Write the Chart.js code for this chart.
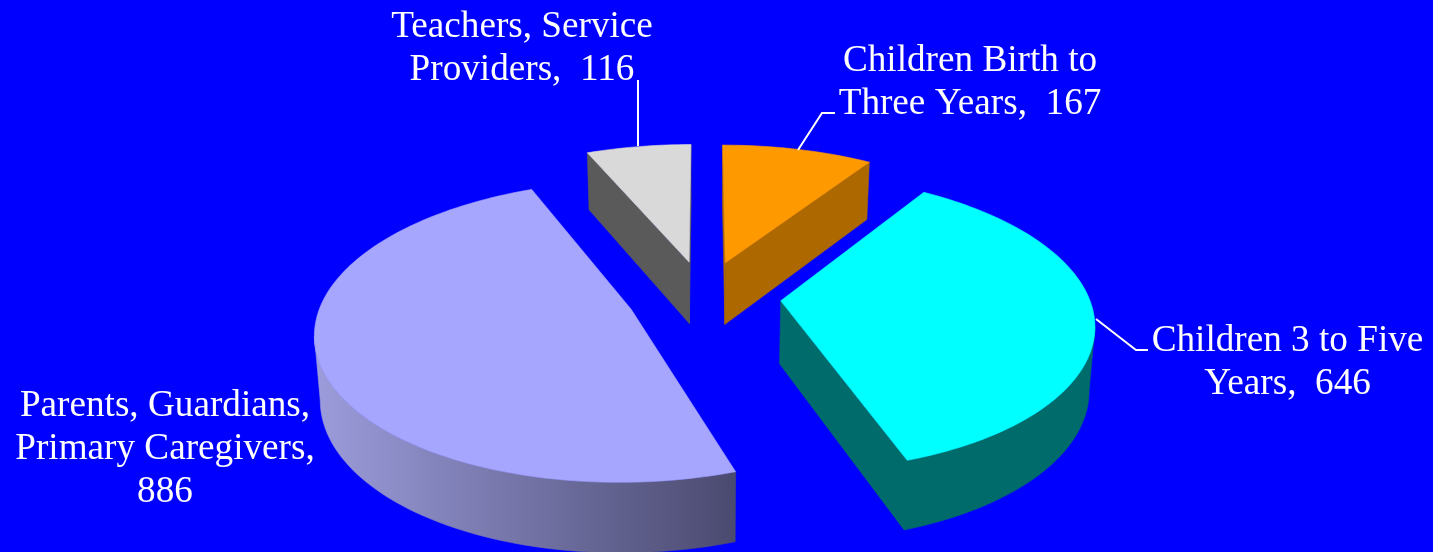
<!DOCTYPE html>
<html>
<head>
<meta charset="utf-8">
<style>html,body{margin:0;padding:0;background:#0000FF;overflow:hidden}canvas{display:block}</style>
<script src="https://cdn.jsdelivr.net/npm/chart.js@4"></script>
</head>
<body>
<canvas id="c" width="1433" height="552"></canvas>
<script>
const categories = ["Children Birth to Three Years", "Children 3 to Five Years", "Parents, Guardians, Primary Caregivers", "Teachers, Service Providers"];
const values = [167, 646, 886, 116];
const labelLines = [["Children Birth to", "Three Years,  167"], ["Children 3 to Five", "Years,  646"], ["Parents, Guardians,", "Primary Caregivers,", "886"], ["Teachers, Service", "Providers,  116"]];
const topColors = ["#FF9900", "#00FFFF", "#A6A6FF", "#D9D9D9"];
const sideColors = ["#AD6800", "#006B6B", ["#9C9CDC", "#4A4A70"], "#5A5A5A"];
const labelCenters = [[970, 71], [1287.5, 351], [165, 416], [522, 37]];
const leaders = [[[798, 150], [822, 113], [835, 113]], [[1096, 319], [1136, 350], [1148, 350]], null, [[638, 146], [638, 80]]];

// Perspective of the tilted pie plane, fitted to the picture
const VIEW = {cx: 704, width: 308, widthTilt: 0.14, horizon: -470, a: 1.305, b: 0.2456, c: 0.0106};
const project = (u, f) => [
  VIEW.cx + VIEW.width * u / (1 + VIEW.widthTilt * f),
  VIEW.horizon + 1000 / (VIEW.a + VIEW.b * f + VIEW.c * f * f)
];
const drop = ([x, y]) => [VIEW.cx + (x - VIEW.cx) * 0.985, y + 50.7 + 0.041 * y];

function poly(ctx, pts, fill) {
  ctx.beginPath();
  pts.forEach((p, i) => i ? ctx.lineTo(p[0], p[1]) : ctx.moveTo(p[0], p[1]));
  ctx.closePath();
  ctx.fillStyle = fill;
  ctx.fill();
  ctx.strokeStyle = fill;
  ctx.lineWidth = 0.6;
  ctx.stroke();
}

const pie3d = {
  id: 'pie3d',
  beforeDraw(chart) {
    const {ctx, width, height} = chart;
    ctx.fillStyle = '#0000FF';
    ctx.fillRect(0, 0, width, height);
  },
  beforeDatasetDraw(chart) {
    const {ctx} = chart;
    const arcs = chart.getDatasetMeta(0).data;
    [3, 0, 2, 1].forEach(i => {
      const arc = arcs[i];
      const a0 = arc.startAngle + Math.PI / 2, a1 = arc.endAngle + Math.PI / 2;
      const mid = (a0 + a1) / 2;
      const ex = arc.options.offset / arc.outerRadius;
      const tu = ex * Math.sin(mid), tf = ex * Math.cos(mid);
      const tip = project(tu, tf);
      const rim = [];
      const n = Math.max(8, Math.ceil((a1 - a0) * 40));
      for (let k = 0; k <= n; k++) {
        const t = a0 + (a1 - a0) * k / n;
        rim.push(project(tu + Math.sin(t), tf + Math.cos(t)));
      }
      const outline = [tip, ...rim];
      const side = sideColors[i];
      let fill = side;
      if (Array.isArray(side)) {
        const xs = outline.map(p => p[0]);
        const g = ctx.createLinearGradient(Math.min(...xs), 0, Math.max(...xs), 0);
        g.addColorStop(0, side[0]);
        g.addColorStop(1, side[1]);
        fill = g;
      }
      ctx.save();
      let run = [];
      const flush = () => {
        if (run.length > 1) poly(ctx, [...run, ...run.slice().reverse().map(drop)], fill);
        run = [];
      };
      for (let k = 0; k < outline.length; k++) {
        const a = outline[k], b = outline[(k + 1) % outline.length];
        if (b[0] < a[0]) {
          if (!run.length) run.push(a);
          run.push(b);
        } else {
          flush();
        }
      }
      flush();
      poly(ctx, outline, topColors[i]);
      ctx.restore();
    });
    return false;
  },
  afterDraw(chart) {
    const {ctx} = chart;
    ctx.save();
    ctx.strokeStyle = '#FFFFFF';
    ctx.lineWidth = 2;
    leaders.forEach(line => {
      if (!line) return;
      ctx.beginPath();
      line.forEach((p, i) => i ? ctx.lineTo(p[0], p[1]) : ctx.moveTo(p[0], p[1]));
      ctx.stroke();
    });
    ctx.fillStyle = '#FFFFFF';
    ctx.font = '37.2px "Liberation Serif"';
    ctx.textAlign = 'center';
    ctx.textBaseline = 'alphabetic';
    labelLines.forEach((lines, i) => {
      lines.forEach((t, j) => ctx.fillText(t, labelCenters[i][0], labelCenters[i][1] + j * 43));
    });
    ctx.restore();
  }
};

new Chart(document.getElementById('c'), {
  type: 'pie',
  data: {
    labels: categories,
    datasets: [{data: values, backgroundColor: topColors, borderWidth: 0, offset: 61.33}]
  },
  options: {
    responsive: false,
    animation: false,
    devicePixelRatio: 1,
    events: [],
    layout: {padding: 0},
    plugins: {legend: {display: false}, tooltip: {enabled: false}, title: {display: false}}
  },
  plugins: [pie3d]
});
</script>
</body>
</html>
